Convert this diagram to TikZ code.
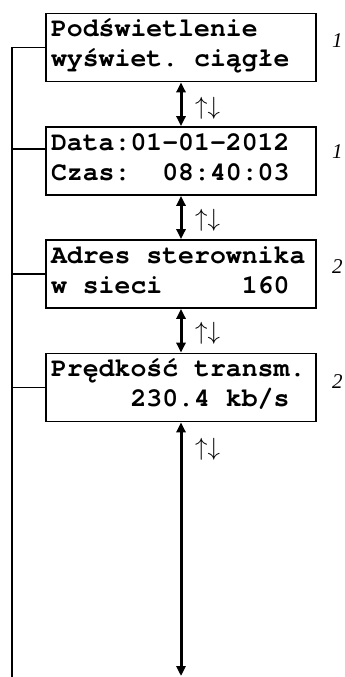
\documentclass[tikz,border=0pt]{standalone}
\usepackage{fontspec}
\usetikzlibrary{arrows.meta}
\newfontfamily\lcdfont{texgyrecursor}[Extension=.otf,UprightFont=*-regular,BoldFont=*-bold]
\newfontfamily\numfont{Liberation Serif}
% blank character cells of the monospaced display font
\newcommand\blanks[1]{\hspace*{#1\fontcharwd\font`0}}
\begin{document}
\begin{tikzpicture}[x=1pt,y=-1pt,
  lcd/.style={draw,line width=1.6pt,rectangle,align=left,
    text width=260pt,inner xsep=5pt,inner ysep=7.5pt,
    text height=15.5pt,text depth=37.5pt,minimum height=66.5pt,
    font={\lcdfont\bfseries\fontsize{26.5pt}{30pt}\selectfont}},
  level/.style={anchor=base west,inner sep=0pt,
    font={\numfont\itshape\fontsize{21pt}{21pt}\selectfont}},
  keys/.style={anchor=west,inner sep=0pt,font={\fontsize{27pt}{27pt}\selectfont}},
  nav/.style={line width=3pt,{Triangle[width=9pt,length=10pt]}-{Triangle[width=9pt,length=10pt]}},
  rail/.style={line width=1.6pt}]
\useasboundingbox (0,0) rectangle (345,677);

% menu screens
\node[lcd] (b1) at (181,47.5) {Podświetlenie\\wyświet.\blanks{1}ciągłe};
\node[lcd] (b2) at (181,161) {Data:01-01-2012\\Czas:\blanks{2}08:40:03};
\node[lcd] (b3) at (181,274) {Adres\blanks{1}sterownika\\w\blanks{1}sieci\blanks{5}160};
\node[lcd] (b4) at (181,387.5) {Prędkość\blanks{1}transm.\\\blanks{5}230.4\blanks{1}kb/s};

% menu level numbers
\node[level] (n1) at (332,48) {1};
\node[level] (n2) at (332,158) {1};
\node[level] (n3) at (332,273) {2};
\node[level] (n4) at (332,388) {2};

% navigation arrows between screens
\coordinate (navend) at (181,676);
\draw[nav] (b1) -- (b2);
\draw[nav] (b2) -- (b3);
\draw[nav] (b3) -- (b4);
\draw[nav] (b4) -- (navend);

\node[keys] (k1) at (195,108) {$\uparrow\downarrow$};
\node[keys] (k2) at (195,220) {$\uparrow\downarrow$};
\node[keys] (k3) at (195,333) {$\uparrow\downarrow$};
\node[keys] (k4) at (195,449) {$\uparrow\downarrow$};

% common return line on the left
\coordinate (railend) at (12,677);
\draw[rail] (b1.west) -| (railend);
\draw[rail] ([yshift=12pt]b2.west) coordinate (t2) -- (t2 -| railend);
\draw[rail] (b3.west) -- (b3.west -| railend);
\draw[rail] (b4.west) -- (b4.west -| railend);
\end{tikzpicture}
\end{document}
